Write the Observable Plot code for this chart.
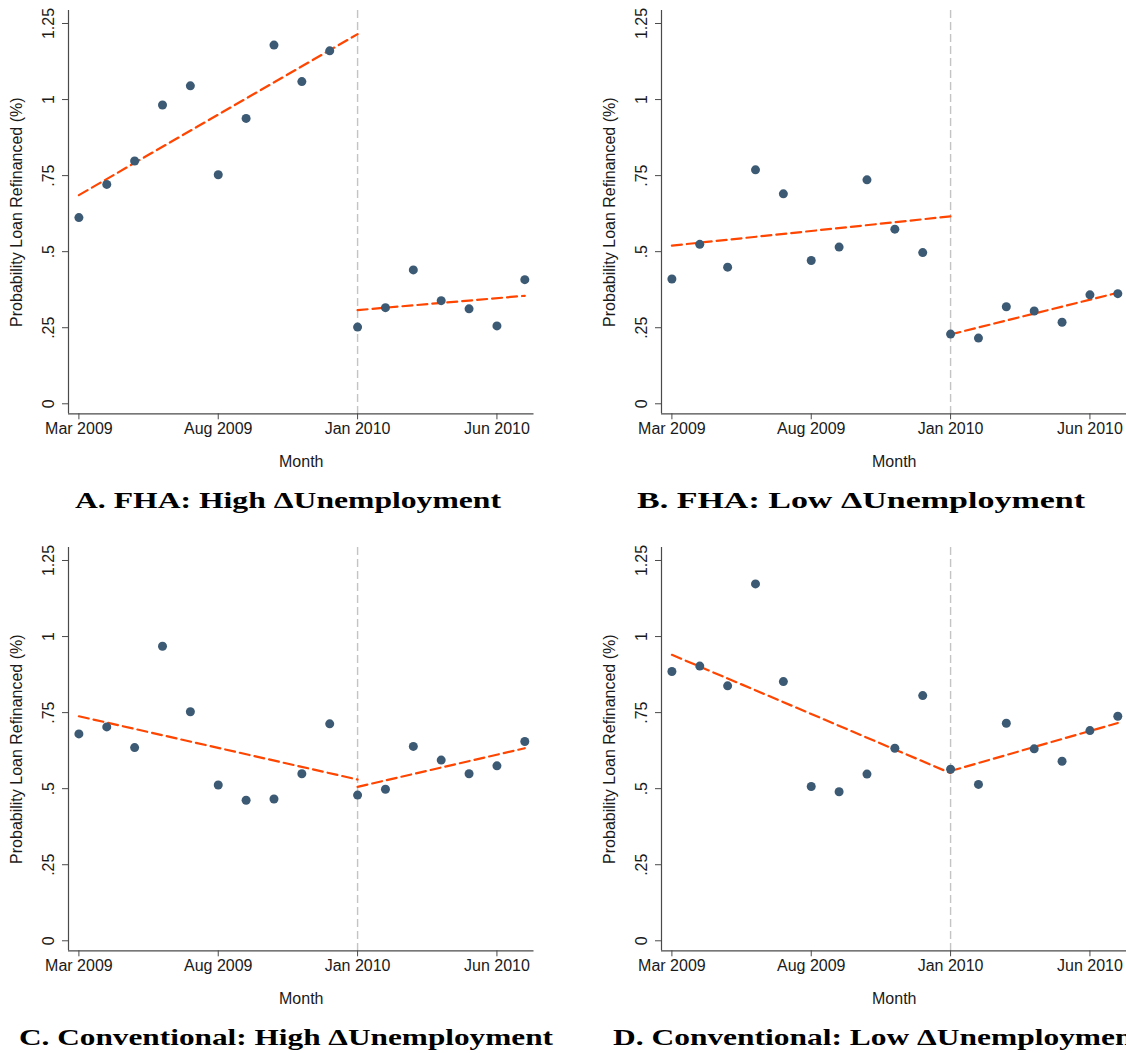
<!DOCTYPE html>
<html><head><meta charset="utf-8">
<script src="https://cdn.jsdelivr.net/npm/d3@7"></script>
<script src="https://cdn.jsdelivr.net/npm/@observablehq/plot@0.6"></script>
<style>
html,body{margin:0;padding:0;background:#fff;overflow:hidden;width:1126px;height:1053px;}
#fig{position:relative;width:1186px;height:1074px;}
.panel{position:absolute;}
</style></head><body><div id="fig"></div>
<script>
// ---- data ----
const months = ["Mar 2009","Apr 2009","May 2009","Jun 2009","Jul 2009","Aug 2009","Sep 2009","Oct 2009","Nov 2009","Dec 2009","Jan 2010","Feb 2010","Mar 2010","Apr 2010","May 2010","Jun 2010","Jul 2010"];
const tickMonths = ["Mar 2009","Aug 2009","Jan 2010","Jun 2010"];
const cutoffMonth = "Jan 2010";
const yTicks = [0, 0.25, 0.5, 0.75, 1, 1.25];
const yTickLabels = ["0", ".25", ".5", ".75", "1", "1.25"];
const yTitle = "Probability Loan Refinanced (%)";
const xTitle = "Month";

const fhaHigh = [0.612,0.721,0.798,0.982,1.045,0.753,0.938,1.179,1.059,1.160,0.252,0.316,0.440,0.339,0.312,0.256,0.408];
const fhaHighFitPre = [0.686, 1.215];
const fhaHighFitPost = [0.308, 0.355];

const fhaLow = [0.410,0.524,0.449,0.769,0.690,0.471,0.515,0.736,0.574,0.497,0.229,0.216,0.319,0.305,0.268,0.358,0.362];
const fhaLowFitPre = [0.520, 0.616];
const fhaLowFitPost = [0.228, 0.365];

const convHigh = [0.680,0.703,0.635,0.968,0.753,0.512,0.462,0.466,0.549,0.713,0.479,0.498,0.639,0.594,0.549,0.575,0.655];
const convHighFitPre = [0.738, 0.530];
const convHighFitPost = [0.506, 0.633];

const convLow = [0.885,0.903,0.838,1.173,0.852,0.507,0.490,0.548,0.633,0.806,0.564,0.514,0.715,0.631,0.590,0.691,0.738];
const convLowFitPre = [0.940, 0.551];
const convLowFitPost = [0.558, 0.716];

const captions = ["A. FHA: High \u0394Unemployment","B. FHA: Low \u0394Unemployment","C. Conventional: High \u0394Unemployment","D. Conventional: Low \u0394Unemployment"];

// ---- layout ----
const W = 593, H = 537;
const panels = [
  {vals: fhaHigh, pre: fhaHighFitPre, post: fhaHighFitPost, cap: captions[0], left: 0, top: 0, capX: 288, capW: 426},
  {vals: fhaLow, pre: fhaLowFitPre, post: fhaLowFitPost, cap: captions[1], left: 593, top: 0, capX: 268, capW: 448},
  {vals: convHigh, pre: convHighFitPre, post: convHighFitPost, cap: captions[2], left: 0, top: 537, capX: 286, capW: 534},
  {vals: convLow, pre: convLowFitPre, post: convLowFitPost, cap: captions[3], left: 593, top: 537, capX: 285, capW: 530}
];

const axisColor = "#4a4a4a";
const dotColor = "#3c5a73";
const fitColor = "#ff4500";
const xDom = [-0.373, 16.33];
const yDom = [-0.0329, 1.2927];

function makePanel(p) {
  const pts = months.map((m, i) => ({month: m, idx: i, v: p.vals[i]}));
  const iCut = months.indexOf(cutoffMonth);
  const iLast = months.length - 1;
  const preLine = [{idx: 0, v: p.pre[0]}, {idx: iCut, v: p.pre[1]}];
  const postLine = [{idx: iCut, v: p.post[0]}, {idx: iLast, v: p.post[1]}];
  const tickIdx = tickMonths.map(m => months.indexOf(m));
  const svg = Plot.plot({
    width: W, height: H,
    marginLeft: 68, marginRight: W - 533.5, marginTop: 10, marginBottom: H - 413.3,
    style: {fontFamily: "'Liberation Sans', Arial, sans-serif", fontSize: "16px", color: "#1a1a1a", background: "transparent", overflow: "visible"},
    x: {domain: xDom},
    y: {domain: yDom},
    marks: [
      Plot.ruleX([iCut], {stroke: "#c4c4c4", strokeWidth: 1.4, strokeDasharray: "8,4"}),
      Plot.ruleX([xDom[0]], {stroke: axisColor, strokeWidth: 1.2}),
      Plot.ruleY([yDom[0]], {stroke: axisColor, strokeWidth: 1.2}),
      Plot.axisX({ticks: tickIdx, tickSize: 6, tickPadding: 3, tickFormat: i => months[i], label: null, stroke: axisColor, fill: "#1a1a1a"}),
      Plot.axisY({ticks: yTicks, tickSize: 6, tickFormat: () => "", label: null, stroke: axisColor}),
      Plot.text(yTicks, {y: d => d, text: (d, i) => yTickLabels[i], frameAnchor: "left", dx: -19.6, rotate: -90, textAnchor: "middle", lineAnchor: "middle", fill: "#1a1a1a"}),
      Plot.text([yTitle], {frameAnchor: "left", dx: -52, rotate: -90, textAnchor: "middle", lineAnchor: "middle", fill: "#1a1a1a"}),
      Plot.text([xTitle], {frameAnchor: "bottom", dy: 48.4, lineAnchor: "middle", fill: "#1a1a1a"}),
      Plot.line(preLine, {x: "idx", y: "v", stroke: fitColor, strokeWidth: 2.2, strokeDasharray: "10,5"}),
      Plot.line(postLine, {x: "idx", y: "v", stroke: fitColor, strokeWidth: 2.2, strokeDasharray: "10,5"}),
      Plot.dot(pts, {x: "idx", y: "v", r: 4.5, fill: dotColor, stroke: "none"})
    ]
  });
  d3.select(svg).append("text")
    .attr("x", p.capX).attr("y", 507.5)
    .attr("text-anchor", "middle")
    .attr("textLength", p.capW).attr("lengthAdjust", "spacingAndGlyphs")
    .attr("fill", "#000")
    .style("font-family", "'Liberation Serif', 'Times New Roman', serif").style("font-weight", "bold").style("font-size", "24px")
    .text(p.cap);
  const div = document.createElement("div");
  div.className = "panel";
  div.style.left = p.left + "px";
  div.style.top = p.top + "px";
  div.appendChild(svg);
  document.getElementById("fig").appendChild(div);
}
panels.forEach(makePanel);
</script></body></html>
